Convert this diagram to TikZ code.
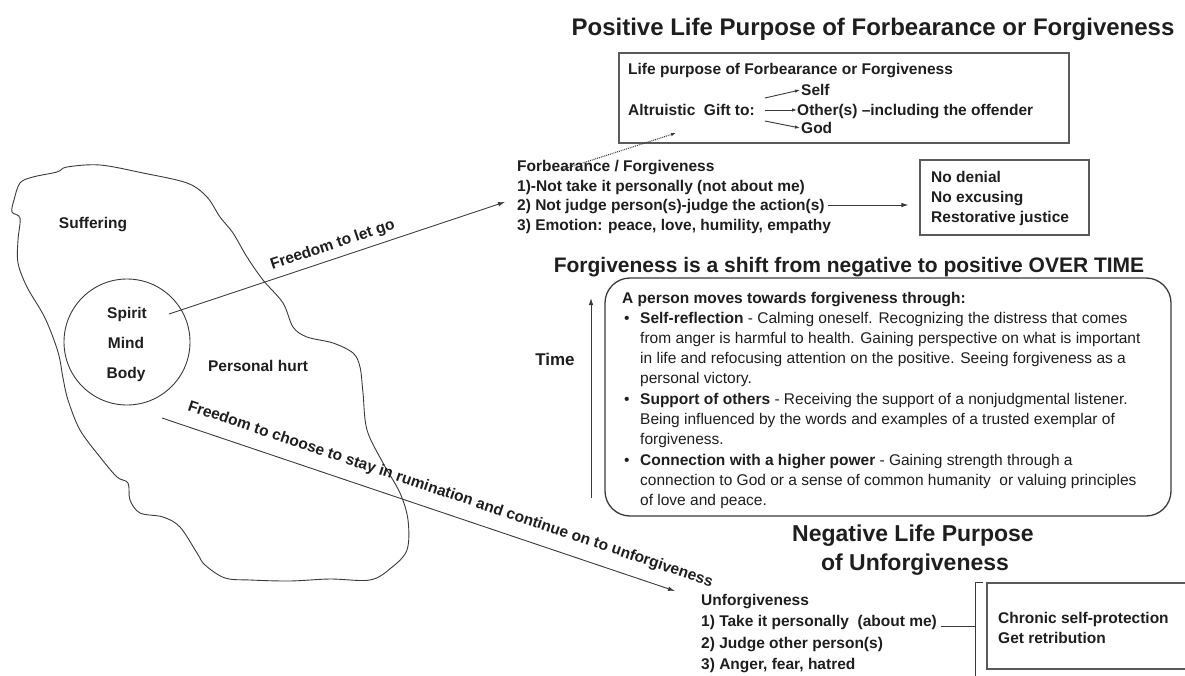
\documentclass[tikz,border=0pt]{standalone}
\usepackage{fontspec}
\setmainfont{Liberation Sans}
\usetikzlibrary{arrows.meta}
\definecolor{ink}{HTML}{1E1E1E}
\definecolor{boxc}{HTML}{5A5A5A}
\definecolor{linec}{HTML}{3A3A3A}
\begin{document}
\begin{tikzpicture}[x=1pt,y=-1pt,
  lab/.style={inner sep=0, text=ink, text height=11.2pt, text depth=0pt, font=\fontsize{15.5}{18}\selectfont\bfseries},
  labl/.style={lab, anchor=west},
  bod/.style={inner sep=0, text=ink, text height=11.2pt, text depth=0pt, font=\fontsize{15.5}{18}\selectfont, anchor=west},
  ttl/.style={inner sep=0, text=ink, text height=17pt, text depth=0pt, font=\fontsize{24}{28}\selectfont\bfseries},
  boxs/.style={draw=boxc, line width=1.1pt, inner sep=0},
  arr/.style={draw=linec, line width=0.9pt, -{Latex[length=7pt,width=4.5pt]}},
  smallarr/.style={arr, -{Latex[length=5pt,width=3.5pt]}},
  blob/.style={draw=linec, line width=0.9pt},
]
\useasboundingbox (0,0) rectangle (1185,676);
\clip (0,0) rectangle (1185,676);

% ---------- left blob ----------
\draw[blob] plot[smooth cycle, tension=0.55] coordinates {
 (20,183) (33,177) (57,172) (67,167) (100,165) (143,173) (187,183) (207,197)
 (220,217) (233,233) (247,257) (263,280) (283,303) (293,327) (307,337) (333,343)
 (353,353) (360,367) (363,393) (367,430) (383,463) (400,493) (408,520) (407,550)
 (391,568) (370,580) (330,579) (290,581) (250,580) (225,578) (205,565) (197,553)
 (180,527) (163,517) (140,513) (130,500) (128,483) (117,477) (100,457) (80,430)
 (68,400) (63,378) (58,352) (45,318) (27,287) (18,263) (18,240) (20,218)
 (12,212) (14,200)};

\node[lab] (suff) at (93,223) {Suffering};
\node[lab] (hurt) at (258,366) {Personal hurt};

\node[draw=linec, line width=0.9pt, circle, minimum size=126pt, inner sep=0] (soul) at (127,342) {};
\node[lab] (spirit) at (127,313) {Spirit};
\node[lab] (mind) at (126,343) {Mind};
\node[lab] (body) at (126,373) {Body};

% ---------- freedom arrows ----------
\coordinate (lg0) at (169,314);
\coordinate (lg1) at (505,202);
\draw[arr] (lg0) -- node[lab, midway, above=9pt, sloped] (lgl) {Freedom to let go} (lg1);

\coordinate (rc0) at (162,418);
\coordinate (rc1) at (675,591);
\draw[arr] (rc0) -- node[lab, pos=0.55, above=15pt, sloped] (rcl) {Freedom to choose to stay in rumination and continue on to unforgiveness} (rc1);

% ---------- positive purpose ----------
\node[ttl] (t1) at (873,27) {Positive Life Purpose of Forbearance or Forgiveness};

\node[boxs, minimum width=450pt, minimum height=90pt] (topbox) at (844,98) {};
\node[labl] (lp) at (628,69) {Life purpose of Forbearance or Forgiveness};
\node[labl] (alt) at (628,110) {Altruistic\ \ Gift to:};
\node[labl] (self) at (801,90) {Self};
\node[labl] (oth) at (797,110) {Other(s) --including the offender};
\node[labl] (god) at (801,128) {God};
\draw[smallarr] ([shift={(10,-12)}]alt.east) -- ([xshift=-1pt]self.west);
\draw[smallarr] ([xshift=10pt]alt.east) -- (oth.west);
\draw[smallarr] ([shift={(10,11)}]alt.east) -- ([xshift=-1pt]god.west);

\node[labl] (f0) at (517,166) {Forbearance / Forgiveness};
\node[labl] (f1) at (517,186) {1)-Not take it personally (not about me)};
\node[labl] (f2) at (517,205) {2) Not judge person(s)-judge the action(s)};
\node[labl] (f3) at (517,225) {3) Emotion: peace, love, humility, empathy};

\coordinate (dt0) at (561,170);
\coordinate (dt1) at (676,133);
\draw[smallarr, densely dotted, line width=1.1pt] (dt0) -- (dt1);

\node[boxs, minimum width=169pt, minimum height=75pt] (nd) at (1004.5,197.5) {};
\node[labl] (nd1) at (931,177) {No denial};
\node[labl] (nd2) at (931,197) {No excusing};
\node[labl] (nd3) at (931,217) {Restorative justice};
\draw[arr, shorten <=3pt, shorten >=11pt] (f2.east) -- (f2.east -| nd.west);

% ---------- over time ----------
\node[ttl, font=\fontsize{21}{24}\selectfont\bfseries, text height=15pt] (t2) at (849,265) {Forgiveness is a shift from negative to positive OVER TIME};

\coordinate (tm0) at (591,498);
\coordinate (tm1) at (591,298);
\draw[arr] (tm0) -- (tm1);
\node[lab, font=\fontsize{17}{20}\selectfont\bfseries] (time) at (555,360) {Time};

\node[draw=linec, line width=1.3pt, rounded corners=25pt, minimum width=566pt, minimum height=238pt, inner sep=0] (rbox) at (888,397) {};
\node[labl] (h0) at (622,298) {A person moves towards forgiveness through:};
\node[bod] (bu1) at (624,318) {•};
\node[bod] (l1) at (640,318) {\bfseries Self-reflection\mdseries\ - Calming oneself. Recognizing the distress that comes};
\node[bod] (l2) at (640,338) {from anger is harmful to health. Gaining perspective on what is important};
\node[bod] (l3) at (640,358) {in life and refocusing attention on the positive. Seeing forgiveness as a};
\node[bod] (l4) at (640,378) {personal victory.};
\node[bod] (bu2) at (624,399) {•};
\node[bod] (l5) at (640,399) {\bfseries Support of others\mdseries\ - Receiving the support of a nonjudgmental listener.};
\node[bod] (l6) at (640,419) {Being influenced by the words and examples of a trusted exemplar of};
\node[bod] (l7) at (640,439) {forgiveness.};
\node[bod] (bu3) at (624,460) {•};
\node[bod] (l8) at (640,460) {\bfseries Connection with a higher power\mdseries\ - Gaining strength through a};
\node[bod] (l9) at (640,480) {connection to God or a sense of common humanity\ \ or valuing principles};
\node[bod] (l10) at (640,500) {of love and peace.};

% ---------- negative purpose ----------
\node[ttl, font=\fontsize{23}{26}\selectfont\bfseries, text height=16.5pt] (t3) at (913,533) {Negative Life Purpose};
\node[ttl, font=\fontsize{23}{26}\selectfont\bfseries, text height=16.5pt] (t4) at (915,562) {of Unforgiveness};

\node[labl] (u0) at (701,600) {Unforgiveness};
\node[labl] (u1) at (701,621) {1) Take it personally\ \ (about me)};
\node[labl] (u2) at (701,643) {2) Judge other person(s)};
\node[labl] (u3) at (701,664) {3) Anger, fear, hatred};

\coordinate (brk) at (975,626);
\draw[linec, line width=0.9pt] ([xshift=4pt]u1.east |- brk) -- (brk);
\coordinate (brtop) at (975,582);
\coordinate (brtick) at (983,582);
\coordinate (brbot) at (975,690);
\draw[linec, line width=0.9pt] (brtick) -- (brtop) -- (brbot);

\node[boxs, line width=1.6pt, minimum width=210pt, minimum height=86pt] (chr) at (1092,626) {};
\node[labl] (c1) at (998,618) {Chronic self-protection};
\node[labl] (c2) at (998,638) {Get retribution};
\end{tikzpicture}
\end{document}
